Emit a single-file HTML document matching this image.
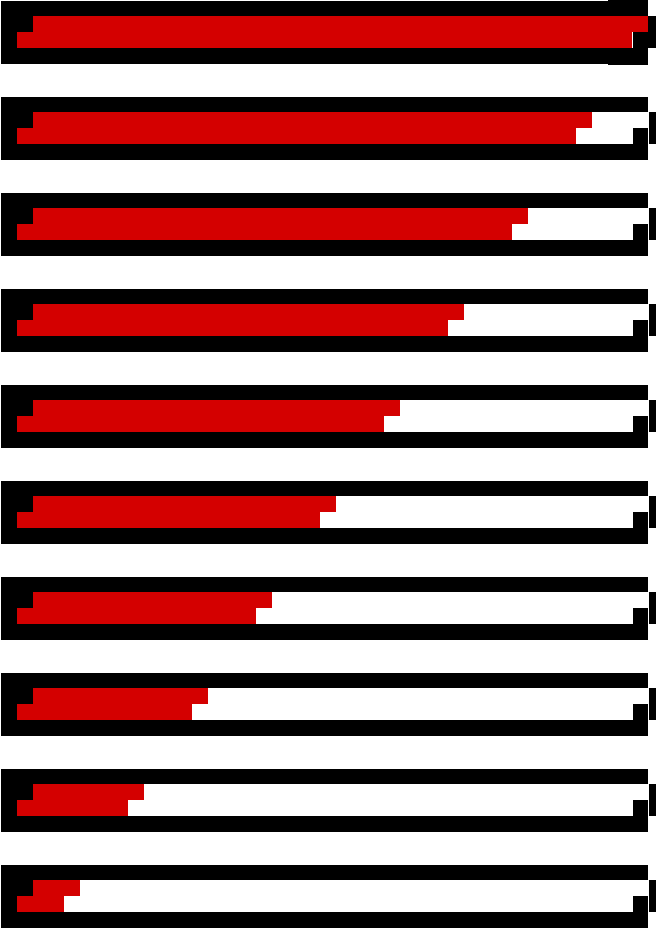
<!DOCTYPE html>
<html><head><meta charset="utf-8"><style>
html,body{margin:0;padding:0;background:#fff;width:656px;height:928px;overflow:hidden}
svg{display:block}
</style></head><body>
<svg id="chart" width="656" height="928" viewBox="0 0 656 928" shape-rendering="crispEdges"></svg>
<script>
const categories = ["bar-1","bar-2","bar-3","bar-4","bar-5","bar-6","bar-7","bar-8","bar-9","bar-10"];
const values = [100, 90, 80, 70, 60, 50, 40, 30, 20, 10];
const NS = "http://www.w3.org/2000/svg";
const svg = document.getElementById("chart");
function xScale(v){ return 16 + 6.4 * v; }
function rect(p, x, y, w, h, fill, name){
  const r = document.createElementNS(NS, "rect");
  r.setAttribute("x", x); r.setAttribute("y", y);
  r.setAttribute("width", Math.max(0, w)); r.setAttribute("height", h);
  r.setAttribute("fill", fill);
  
  
  p.appendChild(r);
  return r;
}
categories.forEach((c, i) => {
  const top = 1 + 96 * i;
  const g = document.createElementNS(NS, "g");
  
  
  svg.appendChild(g);
  rect(g, 1, top, 647, 63, "#000", "bar-frame");
  rect(g, 33, top + 15, 615, 16, "#fff", "track-upper");
  rect(g, 17, top + 31, 616, 16, "#fff", "track-lower");
  const full = values[i] >= 100;
  rect(g, full ? 648 : 649, top + 15, full ? 8 : 7, 32, "#000", "bar-end-cap");
  if (full) {
    rect(g, 608, top - 1, 40, 1, "#000", "frame-notch-top");
    rect(g, 608, top + 63, 40, 1, "#000", "frame-notch-bottom");
  }
  const up = Math.min(xScale(values[i]), 648);
  const lo = Math.min(xScale(values[i]) - 16, 632);
  rect(g, 33, top + 15, up - 33, 16, "#d40000", "fill-upper");
  rect(g, 17, top + 31, lo - 17, 16, "#d40000", "fill-lower");
});
</script>
</body></html>
